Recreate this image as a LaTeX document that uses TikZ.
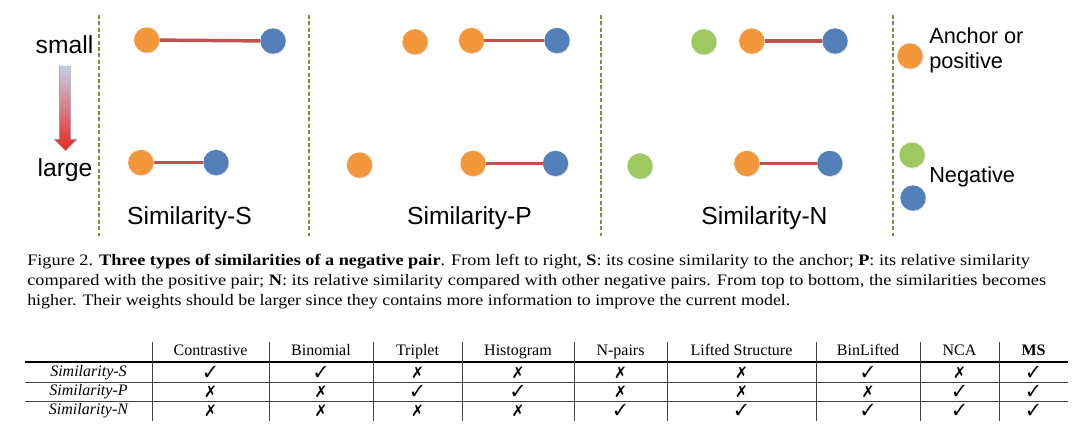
\documentclass[tikz,border=0pt]{standalone}
\usepackage{fontspec}
\usepackage{pifont}
\usepackage{graphicx}
\setmainfont{Liberation Serif}
\newfontfamily\arialfont{Liberation Sans}
\newfontfamily\capfont[FakeStretch=1.12]{Liberation Serif}
\usetikzlibrary{arrows.meta,shadows}
\definecolor{dotorange}{RGB}{242,152,58}
\definecolor{dotblue}{RGB}{84,128,186}
\definecolor{dotgreen}{RGB}{158,200,96}
\definecolor{pairred}{RGB}{190,82,77}
\definecolor{dashgreen}{RGB}{119,147,60}
\definecolor{arrowtop}{RGB}{196,208,230}
\definecolor{arrowbot}{RGB}{232,40,34}
\newcommand{\cellmark}[1]{\if y#1\ding{51}\else\ding{55}\fi}
\tikzset {
  >=Stealth,
  every node/.style={font=\arialfont},
  ball/.style={circle, inner sep=0pt, minimum size=19pt,
    drop shadow={shadow xshift=.5pt, shadow yshift=-.7pt, opacity=.25}},
  anchorball/.style={ball, fill=dotorange},
  negball/.style={ball, fill=dotblue},
  otherball/.style={ball, fill=dotgreen},
  pairline/.style={line width=2.6pt, draw=pairred},
  divider/.style={draw=dashgreen, line width=1pt, dash pattern=on 3pt off 1.8pt},
  biglabel/.style={font=\arialfont\fontsize{18.5}{22}\selectfont, inner sep=0pt, anchor=base},
  legendlabel/.style={font=\arialfont\fontsize{16.3}{19}\selectfont, inner sep=0pt, anchor=base west},
  captext/.style={font=\capfont\fontsize{12}{14}\selectfont, inner sep=0pt, anchor=base west},
  tabtext/.style={font=\rmfamily\fontsize{12}{14}\selectfont, inner sep=0pt, anchor=base},
  tabrule/.style={draw=black!75, line width=.6pt},
}

\begin{document}
\begin{tikzpicture}[x=.75pt,y=-.75pt]
  \useasboundingbox (0,0) rectangle (1080,433);

  % dashed separators
  \foreach \x in {99,309,601,893}
    \draw[divider] (\x,15) -- (\x,236);

  % small -> large
  \node[biglabel] (small) at (64.5,53) {small};
  \node[biglabel] (large) at (65,176) {large};
  \shade[top color=arrowtop, bottom color=arrowbot, draw=arrowtop!70!black, line width=.3pt]
    (59.3,66) -- (70.7,66) -- (70.7,139.3) -- (76.7,139.3) -- (65.5,150.7)
    -- (54.3,139.3) -- (59.3,139.3) -- cycle;

  % Similarity-S
  \node[anchorball] (sa1) at (146.7,40) {};
  \node[negball] (sn1) at (273,41) {};
  \draw[pairline] (sa1) -- (sn1);
  \node[anchorball] (sa2) at (140.8,162.5) {};
  \node[negball] (sn2) at (216,162.5) {};
  \draw[pairline] (sa2) -- (sn2);
  \node[biglabel] (simS) at (189.5,224) {Similarity-S};

  % Similarity-P
  \node[anchorball] (pp1) at (415,41.8) {};
  \node[anchorball] (pa1) at (471.5,40.5) {};
  \node[negball] (pn1) at (557,40.5) {};
  \draw[pairline] (pa1) -- (pn1);
  \node[anchorball] (pp2) at (359.5,165) {};
  \node[anchorball] (pa2) at (473,163.4) {};
  \node[negball] (pn2) at (555.5,163.4) {};
  \draw[pairline] (pa2) -- (pn2);
  \node[biglabel] (simP) at (469.5,224) {Similarity-P};

  % Similarity-N
  \node[otherball] (no1) at (703.8,41.8) {};
  \node[anchorball] (na1) at (751.7,41) {};
  \node[negball] (nn1) at (835,41) {};
  \draw[pairline] (na1) -- (nn1);
  \node[otherball] (no2) at (640,166) {};
  \node[anchorball] (na2) at (746.8,163.4) {};
  \node[negball] (nn2) at (829.8,163.4) {};
  \draw[pairline] (na2) -- (nn2);
  \node[biglabel] (simN) at (764.5,224) {Similarity-N};

  % legend
  \node[anchorball] (keyA) at (910,56) {};
  \node[legendlabel] (keyAtxt) at (929,43) {Anchor or};
  \node[legendlabel] (keyAtxt2) at (929,68) {positive};
  \node[otherball] (keyG) at (912,155) {};
  \node[negball] (keyB) at (913,198) {};
  \node[legendlabel] (keyNtxt) at (929,182) {Negative};

  % caption
  \node[captext] (cap1) at (27,265.5) {\resizebox{752pt}{\height}{Figure 2. \textbf{Three types of similarities of a negative pair}. From left to right, \textbf{S}: its cosine similarity to the anchor; \textbf{P}: its relative similarity}};
  \node[captext] (cap2) at (27,285.5) {\resizebox{764pt}{\height}{compared with the positive pair; \textbf{N}: its relative similarity compared with other negative pairs. From top to bottom, the similarities becomes}};
  \node[captext] (cap3) at (27,305.5) {higher. Their weights should be larger since they contains more information to improve the current model.};

  % table
  \draw[draw=black, line width=1.3pt] (25,361.7) -- (1068,361.7);
  \draw[tabrule] (25,382) -- (1068,382);
  \draw[tabrule] (25,401) -- (1068,401);
  \foreach \x in {152,269,373,462,574,667,816,920,999}
    \draw[tabrule] (\x,342) -- (\x,421);
  \node[tabtext] (rowS) at (88.5,376.7) {\itshape Similarity-S};
  \node[tabtext] (rowP) at (88.5,395.7) {\itshape Similarity-P};
  \node[tabtext] (rowN) at (88.5,414.7) {\itshape Similarity-N};
  \foreach \x/\head/\s/\p/\n [count=\i] in {
      210.5/Contrastive/y/n/n,
      321/Binomial/y/n/n,
      417.5/Triplet/n/y/n,
      518/Histogram/n/y/n,
      620.5/N-pairs/n/n/y,
      741.5/Lifted Structure/n/n/y,
      868/BinLifted/y/n/y,
      959.5/NCA/n/y/y,
      1033.5/\textbf{MS}/y/y/y} {
    \node[tabtext] (head\i) at (\x,355) {\head};
    \node[tabtext] (cS\i) at (\x,377.5) {\cellmark{\s}};
    \node[tabtext] (cP\i) at (\x,396.5) {\cellmark{\p}};
    \node[tabtext] (cN\i) at (\x,415.5) {\cellmark{\n}};
  }
\end{tikzpicture}
\end{document}
